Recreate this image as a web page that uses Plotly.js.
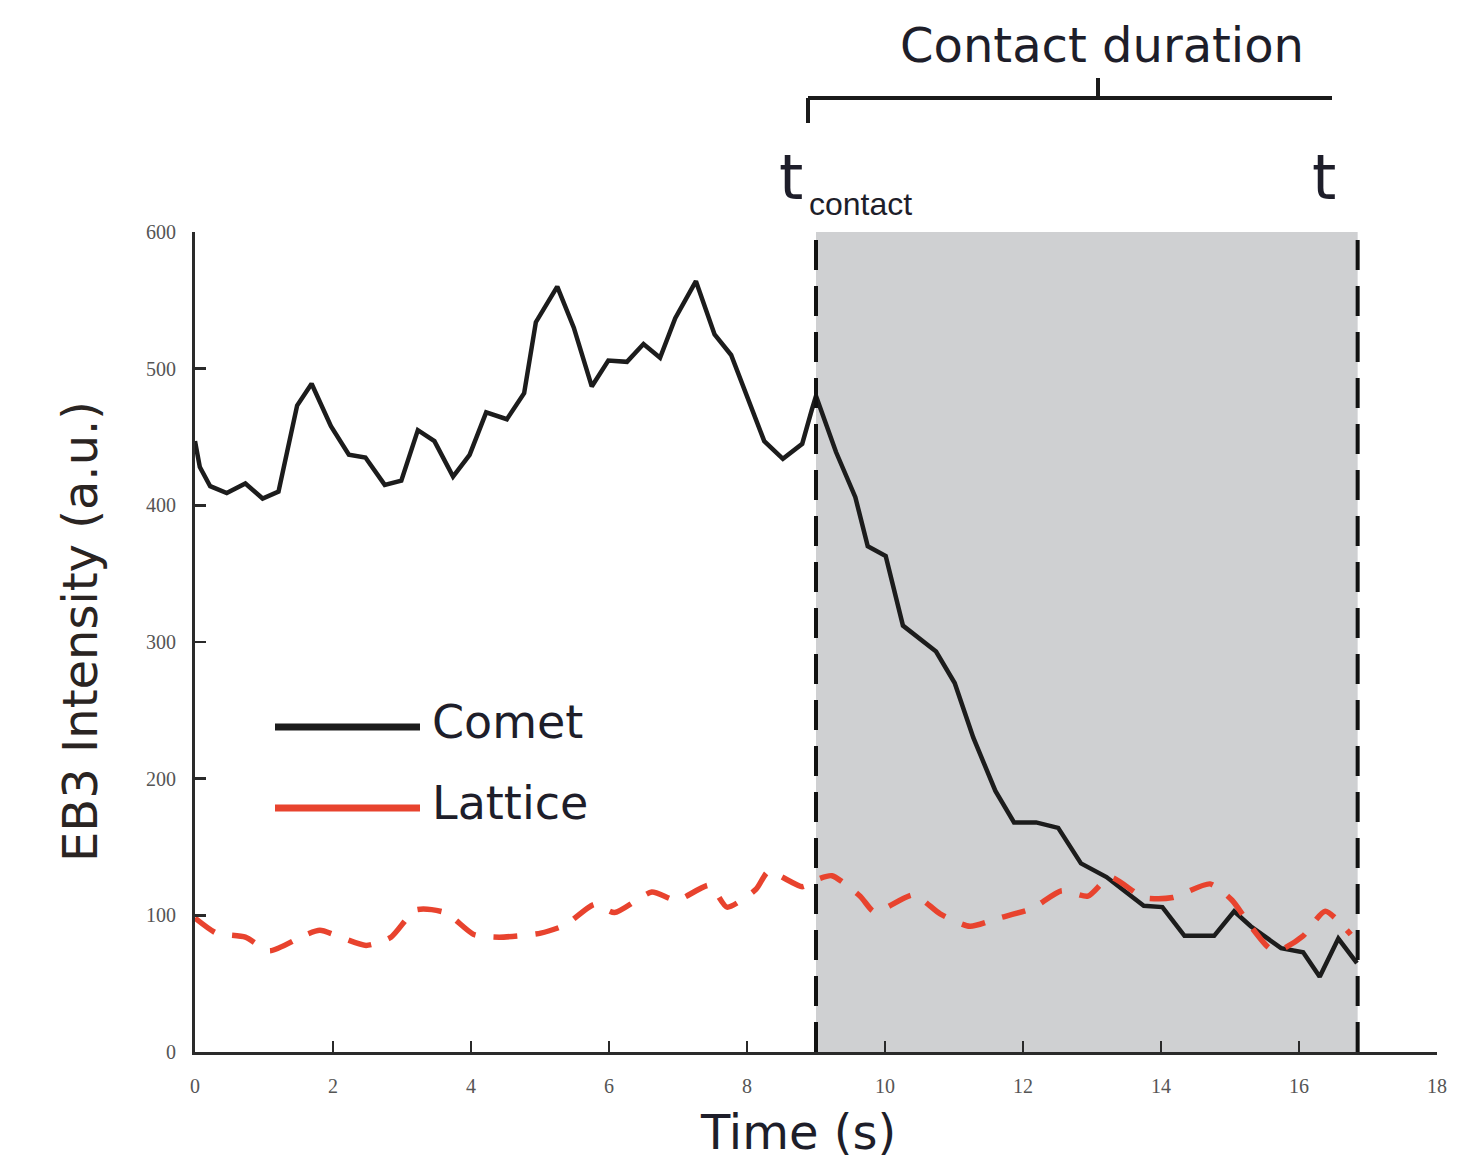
<!DOCTYPE html>
<html>
<head>
<meta charset="utf-8">
<script src="https://cdn.plot.ly/plotly-3.0.1.min.js"></script>
<style>html,body{margin:0;padding:0;background:#fff;}#chart{width:1476px;height:1167px;}</style>
</head>
<body>
<div id="chart"></div>
<script>
// ---- data ----
const cometTime = [0,0.07,0.22,0.46,0.73,0.98,1.21,1.48,1.69,1.97,2.23,2.47,2.75,2.99,3.23,3.47,3.74,3.98,4.22,4.52,4.77,4.94,5.25,5.49,5.75,5.99,6.26,6.5,6.74,6.96,7.26,7.53,7.77,8.07,8.25,8.52,8.8,8.94,9.0,9.29,9.57,9.75,10.01,10.26,10.74,11.01,11.28,11.6,11.87,12.19,12.51,12.84,13.21,13.75,14.02,14.34,14.77,15.06,15.3,15.74,16.06,16.3,16.57,16.84];
const cometIntensity = [447,428,414,409,416,405,410,473,489,458,437,435,415,418,455,447,421,437,468,463,482,534,560,530,487,506,505,518,508,537,564,525,510,470,447,434,445,470,480,439,406,370,363,312,293,270,230,191,168,168,164,138,128,107,106,85,85,103,92,76,73,55,83,65];
const latticeTime = [0,0.31,0.73,1.08,1.57,1.81,2.48,2.84,3.2,3.63,4.04,4.41,5.01,5.37,5.79,6.08,6.62,6.98,7.46,7.71,8.13,8.31,8.8,9.0,9.23,9.64,9.83,9.99,10.42,10.8,11.23,11.65,12.13,12.56,12.94,13.26,13.75,14.17,14.71,15.03,15.3,15.57,15.74,16.06,16.38,16.75];
const latticeIntensity = [98,87,84,74,85,89,78,84,104,102,86,84,87,93,108,102,117,111,122,106,119,132,121,126,129,114,103,105,115,101,92,98,105,118,114,128,113,113,123,111,92,76,75,85,103,86];
const contactStart = 9.0;
const contactEnd = 16.85;
const xTicks = [0,2,4,6,8,10,12,14,16,18];
const yTicks = [0,100,200,300,400,500,600];
const seriesNames = ["Comet", "Lattice"];

// ---- layout helpers (pixel -> paper) ----
const L = 195, R = 1437, T = 232, B = 1052;
const px = v => (v - L) / (R - L);
const py = v => (B - v) / (B - T);
const txtColor = "#1e1e2a";

const traces = [
  {x: cometTime, y: cometIntensity, name: seriesNames[0], mode: "lines",
   line: {color: "#1c1c1c", width: 4.5}, showlegend: false},
  {x: latticeTime, y: latticeIntensity, name: seriesNames[1], mode: "lines",
   line: {color: "#e8432e", width: 5.5, dash: "24px,18px", shape: "spline", smoothing: 0.6}, showlegend: false}
];

const shapes = [
  {type: "rect", xref: "x", yref: "y", x0: contactStart, x1: contactEnd, y0: 0, y1: 600,
   fillcolor: "#cfd0d2", line: {width: 0}, layer: "below"},
  {type: "line", xref: "x", yref: "y", x0: contactStart, x1: contactStart, y0: 0, y1: 600,
   line: {color: "#111", width: 4, dash: "30px,16px"}},
  {type: "line", xref: "x", yref: "y", x0: contactEnd, x1: contactEnd, y0: 0, y1: 600,
   line: {color: "#111", width: 4, dash: "30px,16px"}},
  // bracket
  {type: "line", xref: "paper", yref: "paper", x0: px(808), x1: px(1332), y0: py(98), y1: py(98),
   line: {color: "#1a1a1a", width: 4}},
  {type: "line", xref: "paper", yref: "paper", x0: px(808), x1: px(808), y0: py(98), y1: py(123),
   line: {color: "#1a1a1a", width: 4}},
  {type: "line", xref: "paper", yref: "paper", x0: px(1098), x1: px(1098), y0: py(78), y1: py(98),
   line: {color: "#1a1a1a", width: 4}},
  // legend samples
  {type: "line", xref: "paper", yref: "paper", x0: px(275), x1: px(420), y0: py(727), y1: py(727),
   line: {color: "#1c1c1c", width: 7}},
  {type: "line", xref: "paper", yref: "paper", x0: px(275), x1: px(420), y0: py(808), y1: py(808),
   line: {color: "#e8432e", width: 7}}
];

const font = "DejaVu Sans, Verdana, sans-serif";
const annotations = [
  {xref: "paper", yref: "paper", x: px(1102), y: py(45), text: "Contact duration", showarrow: false,
   font: {family: font, size: 48, color: txtColor}, xanchor: "center", yanchor: "middle"},
  {xref: "paper", yref: "paper", x: px(791), y: py(178), text: "t", showarrow: false,
   font: {family: font, size: 62, color: txtColor}, xanchor: "center", yanchor: "middle"},
  {xref: "paper", yref: "paper", x: px(860), y: py(204), text: "contact", showarrow: false,
   font: {family: "Liberation Sans Narrow, Liberation Sans, sans-serif", size: 32, color: txtColor}, xanchor: "center", yanchor: "middle"},
  {xref: "paper", yref: "paper", x: px(1324), y: py(178), text: "t", showarrow: false,
   font: {family: font, size: 62, color: txtColor}, xanchor: "center", yanchor: "middle"},
  {xref: "paper", yref: "paper", x: px(430), y: py(722), text: seriesNames[0], showarrow: false,
   font: {family: font, size: 46, color: txtColor}, xanchor: "left", yanchor: "middle"},
  {xref: "paper", yref: "paper", x: px(430), y: py(803), text: seriesNames[1], showarrow: false,
   font: {family: font, size: 46, color: txtColor}, xanchor: "left", yanchor: "middle"},
  {xref: "paper", yref: "paper", x: px(80), y: py(632), text: "EB3 Intensity (a.u.)", showarrow: false,
   textangle: -90, font: {family: font, size: 48, color: "#2a2422"}, xanchor: "center", yanchor: "middle"},
  {xref: "paper", yref: "paper", x: px(798), y: py(1132), text: "Time (s)", showarrow: false,
   font: {family: font, size: 48, color: txtColor}, xanchor: "center", yanchor: "middle"}
];

const tickFont = {family: "Liberation Serif, serif", size: 20, color: "#555"};
const layout = {
  width: 1476, height: 1167,
  margin: {l: L, r: 1476 - R, t: T, b: 1167 - B, pad: 0},
  paper_bgcolor: "#fff", plot_bgcolor: "#fff",
  showlegend: false,
  xaxis: {range: [0, 18], tickvals: xTicks, ticktext: xTicks.map(String), showgrid: false, zeroline: false,
    showline: true, linecolor: "#2a2a2a", linewidth: 3, ticks: "inside", ticklen: 11, tickwidth: 2.5,
    tickcolor: "#2a2a2a", tickfont: tickFont, ticklabelstandoff: 14, fixedrange: true},
  yaxis: {range: [0, 600], tickvals: yTicks, ticktext: yTicks.map(String), showgrid: false, zeroline: false,
    showline: true, linecolor: "#2a2a2a", linewidth: 3, ticks: "inside", ticklen: 11, tickwidth: 2.5,
    tickcolor: "#2a2a2a", tickfont: tickFont, ticklabelstandoff: 12, fixedrange: true},
  shapes: shapes,
  annotations: annotations
};

Plotly.newPlot("chart", traces, layout, {displayModeBar: false, staticPlot: true});
</script>
</body>
</html>
